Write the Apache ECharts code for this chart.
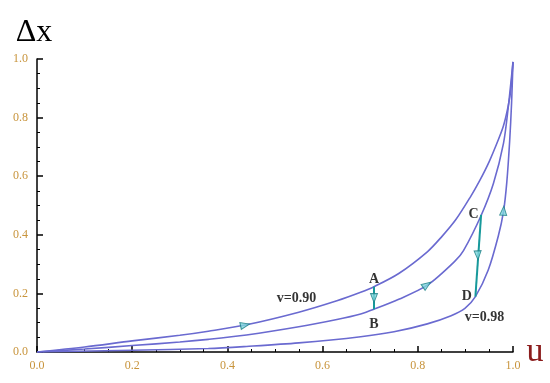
<!DOCTYPE html>
<html>
<head>
<meta charset="utf-8">
<script src="https://cdn.jsdelivr.net/npm/echarts@6/dist/echarts.min.js"></script>
<style>
html,body{margin:0;padding:0;background:#fff;}
#chart{width:550px;height:383px;}
</style>
</head>
<body>
<div id="chart"></div>
<script>
// ---- data ----
const curveV090 = [[0,0],[0.1,0.017],[0.2,0.038],[0.3,0.057],[0.36,0.071],[0.44,0.093],[0.55,0.136],[0.63,0.175],[0.68,0.204],[0.708,0.223],[0.76,0.268],[0.82,0.342],[0.85,0.393],[0.88,0.452],[0.91,0.528],[0.93,0.585],[0.95,0.650],[0.97,0.728],[0.98,0.772],[0.99,0.84],[0.995,0.89],[1.0,0.99]];
const curveMid = [[0,0],[0.1,0.010],[0.2,0.022],[0.3,0.034],[0.36,0.043],[0.44,0.058],[0.55,0.086],[0.63,0.111],[0.68,0.130],[0.708,0.146],[0.76,0.180],[0.82,0.228],[0.878,0.310],[0.896,0.346],[0.933,0.466],[0.959,0.576],[0.98,0.712],[0.99,0.835],[1.0,0.99]];
const curveV098 = [[0,0],[0.2,0.006],[0.36,0.012],[0.44,0.019],[0.55,0.031],[0.68,0.052],[0.75,0.069],[0.82,0.096],[0.87,0.124],[0.899,0.149],[0.921,0.189],[0.948,0.280],[0.969,0.395],[0.98,0.479],[0.987,0.580],[0.993,0.720],[0.997,0.850],[1.0,0.99]];
const segAB = [[0.708,0.223],[0.708,0.146]];
const segCD = [[0.933,0.468],[0.921,0.189]];
const pointLabels = [
  {name:'A', value:[0.708,0.223], pos:'top', dist:0},
  {name:'B', value:[0.708,0.146], pos:'bottom', dist:8},
  {name:'C', value:[0.933,0.468], pos:'left', dist:2},
  {name:'D', value:[0.921,0.189], pos:'left', dist:3}
];
const curveLabels = [
  {name:'v=0.90', value:[0.545,0.183]},
  {name:'v=0.98', value:[0.94,0.118]}
];
// arrow heads: [u, dx, rotation]
const arrows = [[0.437,0.092,-78],[0.819,0.229,-55],[0.980,0.482,-4],[0.708,0.184,180],[0.926,0.330,182]];
const tickLabelsX = ['0.0','0.2','0.4','0.6','0.8','1.0'];
const tickLabelsY = ['0.0','0.2','0.4','0.6','0.8','1.0'];

const curveColor = '#6a6ad0';
const segColor = '#17999b';
const tickColor = '#c8943c';
const serif = '"Liberation Serif","DejaVu Serif",serif';

const chart = echarts.init(document.getElementById('chart'));
const curveSeries = (d) => ({
  type:'line', data:d, smooth:0.3, symbol:'none',
  lineStyle:{color:curveColor, width:1.6}, z:2, silent:true
});
const textSeries = (d, extra) => ({
  type:'scatter', data:d, symbol:'circle', symbolSize:1,
  itemStyle:{color:'rgba(0,0,0,0)'}, z:6, silent:true,
  label:Object.assign({show:true, formatter:'{b}', fontFamily:serif, fontWeight:'bold', fontSize:14, color:'#000'}, extra)
});
chart.setOption({
  animation:false,
  backgroundColor:'#fff',
  grid:{left:37, right:37, top:59, bottom:31, containLabel:false},
  xAxis:{
    type:'value', min:0, max:1, interval:0.2,
    name:'u', nameLocation:'end', nameGap:10,
    nameTextStyle:{fontFamily:serif, fontSize:34, color:'#8b1c1c', verticalAlign:'middle', padding:[10,0,0,0]},
    axisLine:{lineStyle:{color:'#000', width:1.5}},
    axisTick:{inside:true, length:6, lineStyle:{color:'#000', width:1.5}},
    minorTick:{show:true, splitNumber:4, length:3, lineStyle:{color:'#000', width:1}},
    splitLine:{show:false}, minorSplitLine:{show:false},
    axisLabel:{fontFamily:serif, fontSize:12, color:tickColor, margin:8,
      formatter:(v)=>tickLabelsX[Math.round(v*5)]}
  },
  yAxis:{
    type:'value', min:0, max:1, interval:0.2,
    name:'Δx', nameLocation:'end', nameGap:10,
    nameTextStyle:{fontFamily:serif, fontSize:32, color:'#000', align:'center', padding:[0,6,0,0]},
    axisLine:{lineStyle:{color:'#000', width:1.5}},
    axisTick:{inside:true, length:6, lineStyle:{color:'#000', width:1.5}},
    minorTick:{show:true, splitNumber:4, length:3, lineStyle:{color:'#000', width:1}},
    splitLine:{show:false}, minorSplitLine:{show:false},
    axisLabel:{fontFamily:serif, fontSize:12, color:tickColor, margin:9,
      formatter:(v)=>tickLabelsY[Math.round(v*5)]}
  },
  series:[
    curveSeries(curveV090),
    curveSeries(curveMid),
    curveSeries(curveV098),
    {type:'line', data:segAB, symbol:'none', lineStyle:{color:segColor, width:2}, z:3, silent:true},
    {type:'line', data:segCD, symbol:'none', lineStyle:{color:segColor, width:2}, z:3, silent:true},
    {type:'scatter', data:arrows.map(a=>({value:[a[0],a[1]], symbolRotate:a[2]})),
      symbol:'triangle', symbolSize:[7,9],
      itemStyle:{color:'#7fd6dc', borderColor:'#1b7f86', borderWidth:1}, z:5, silent:true},
    textSeries(pointLabels.map(p=>({name:p.name, value:p.value,
        label:{position:p.pos, distance:p.dist}})), {}),
    textSeries(curveLabels, {position:'inside'})
  ]
});
</script>
</body>
</html>
